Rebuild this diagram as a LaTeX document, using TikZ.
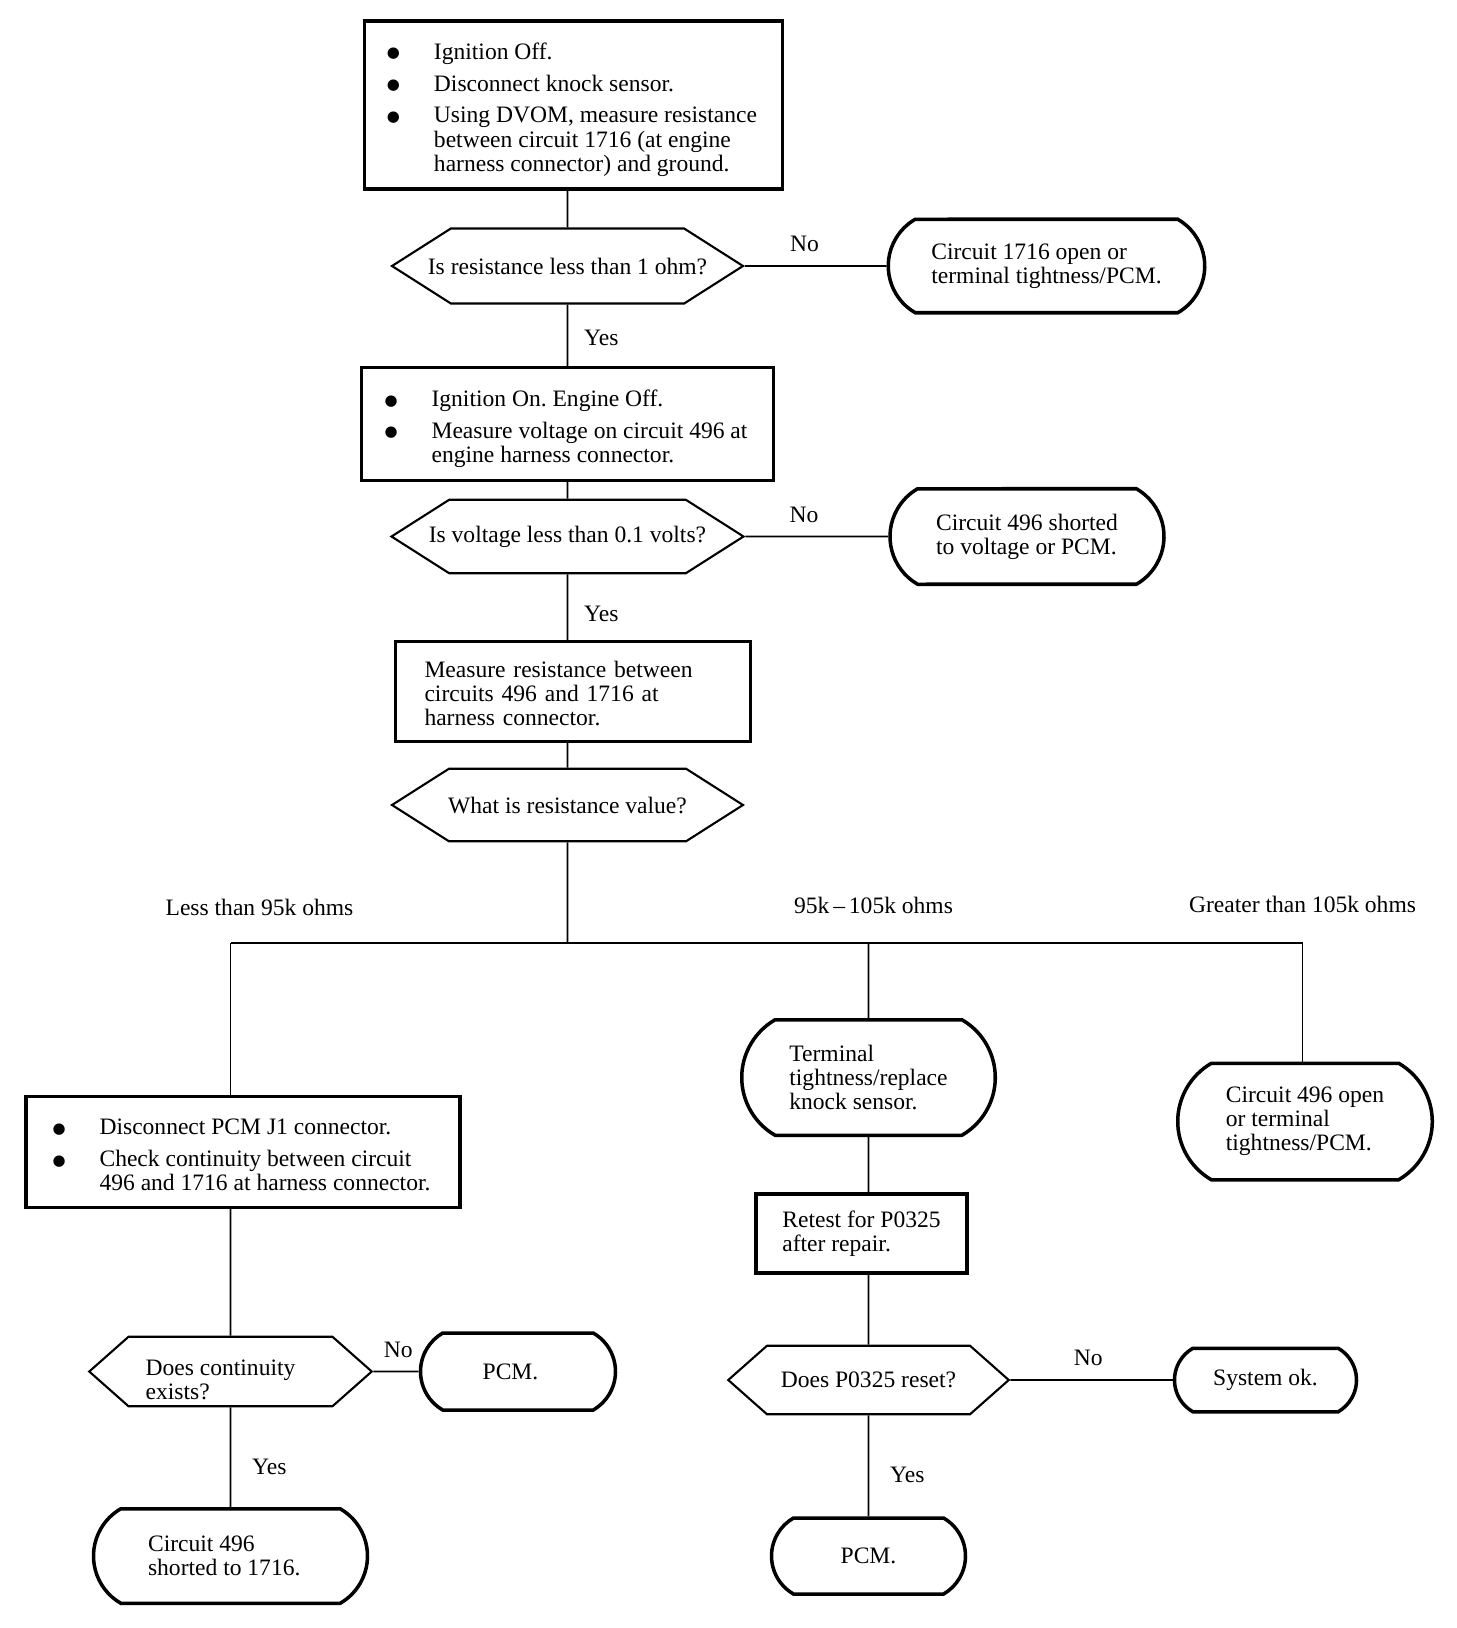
\documentclass[tikz,border=0pt]{standalone}
\usepackage{fontspec}
\setmainfont{Liberation Serif}
\newfontfamily\symfont{DejaVu Sans}
\usetikzlibrary{shapes.symbols,shapes.misc}

\frenchspacing
\newcommand{\bul}{\hspace*{-0.06cm}\raisebox{0.6pt}{\symfont\fontsize{8.5}{8.5}\selectfont ●}}
\newcommand{\gap}{\\[4.5pt]}
\newcommand{\low}[1]{\raisebox{-3pt}[\height][\depth]{#1}}
\newcommand{\qtext}[1]{\makebox[2cm][c]{#1}}

\begin{document}
\begin{tikzpicture}[line width=0.9pt,font=\fontsize{13.4}{13.7}\selectfont,
    stepbox/.style={draw,rectangle,line width=1.8pt,inner sep=0pt,align=left},
    ask/.style={draw,signal,signal to=west and east,signal pointer angle=65,line width=1.2pt,inner sep=0pt,align=left},
    endbox/.style={draw,rounded rectangle,rounded rectangle arc length=120,line width=2pt,inner sep=0pt,align=left}]

    \useasboundingbox (0,0) rectangle (29.12,-32.56);

    % main column
    \node[stepbox,minimum width=8.35cm,minimum height=3.36cm] (chk1) at (11.47,-2.10) {\low{\begin{tabular}{@{}p{0.88cm}@{}l@{}}
        \bul & Ignition Off.\gap
        \bul & Disconnect knock sensor.\gap
        \bul & Using DVOM, measure resistance\\
             & between circuit 1716 (at engine\\
             & harness connector) and ground.
    \end{tabular}}};
    \node[ask,minimum width=7.02cm,minimum height=1.50cm] (q1) at (11.35,-5.32) {\qtext{Is resistance less than 1 ohm?}};
    \node[endbox,minimum width=6.33cm,minimum height=1.87cm] (open1) at (20.93,-5.32) {Circuit 1716 open or\\terminal tightness/PCM.};

    \node[stepbox,minimum width=8.25cm,minimum height=2.26cm] (chk2) at (11.35,-8.48) {\low{\begin{tabular}{@{}p{0.88cm}@{}l@{}}
        \bul & Ignition On. Engine Off.\gap
        \bul & Measure voltage on circuit 496 at\\
             & engine harness connector.
    \end{tabular}}};
    \node[ask,minimum width=7.04cm,minimum height=1.47cm] (q2) at (11.35,-10.73) {\qtext{Is voltage less than 0.1 volts?}};
    \node[endbox,minimum width=5.48cm,minimum height=1.91cm] (short1) at (20.54,-10.73) {Circuit 496 shorted\\to voltage or PCM.};

    \node[stepbox,text width=5.94cm,inner xsep=0.58cm,minimum height=1.99cm] (meas) at (11.46,-13.83) {\low{\begin{tabular}{@{}l@{}}
        Measure resistance between\\circuits 496 and 1716 at\\harness connector.
    \end{tabular}}};
    \node[ask,minimum width=7.02cm,minimum height=1.45cm] (q3) at (11.35,-16.10) {\qtext{What is resistance value?}};

    % branches
    \coordinate (jl) at (4.61,-18.86);
    \coordinate (jm) at (17.37,-18.86);
    \coordinate (jr) at (26.05,-18.86);
    \node (lo) at (5.19,-18.15) {Less than 95k ohms};
    \node (mid) at (17.47,-18.11) {95k\,--\,105k ohms};
    \node (hi) at (26.05,-18.09) {Greater than 105k ohms};

    % left branch
    \node[stepbox,minimum width=8.68cm,minimum height=2.22cm] (chk3) at (4.86,-23.04) {\low{\begin{tabular}{@{}p{0.88cm}@{}l@{}}
        \bul & Disconnect PCM J1 connector.\gap
        \bul & Check continuity between circuit\\
             & 496 and 1716 at harness connector.
    \end{tabular}}};
    \node[ask,signal pointer angle=83,minimum width=5.65cm,minimum height=1.39cm] (q4) at (4.61,-27.43) {\qtext{\raisebox{-6.5pt}[\height][\depth]{\begin{tabular}{@{}l@{}}Does continuity\\exists?\end{tabular}}\hspace*{0.4cm}}};
    \node[endbox,minimum width=3.90cm,minimum height=1.54cm] (pcm1) at (10.36,-27.43) {PCM.\hspace*{0.3cm}};
    \node[endbox,minimum width=5.48cm,minimum height=1.89cm] (short2) at (4.61,-31.12) {Circuit 496\\shorted to 1716.\hspace*{0.25cm}};

    % middle branch
    \node[endbox,minimum width=5.07cm,minimum height=2.31cm] (fix1) at (17.37,-21.55) {Terminal\\tightness/replace\\knock sensor.};
    \node[stepbox,minimum width=4.22cm,minimum height=1.58cm] (retest) at (17.23,-24.67) {Retest for P0325\\after repair.};
    \node[ask,signal pointer angle=83,minimum width=5.61cm,minimum height=1.37cm] (q5) at (17.37,-27.60) {\qtext{Does P0325 reset?}};
    \node[endbox,minimum width=3.64cm,minimum height=1.27cm] (sysok) at (25.31,-27.60) {System ok.};
    \node[endbox,minimum width=3.88cm,minimum height=1.52cm] (pcm2) at (17.37,-31.12) {PCM.};

    % right branch
    \node[endbox,minimum width=5.09cm,minimum height=2.33cm] (open2) at (26.10,-22.43) {Circuit 496 open\\or terminal\\tightness/PCM.};

    \draw (chk1.south -| q1) -- (q1);
    \draw (q1) -- node[above=0.15cm,pos=0.42] (no1) {No} (open1);
    \draw (q1) -- node[right=0.2cm,pos=0.55] (yes1) {Yes} (chk2);
    \draw (chk2) -- (q2);
    \draw (q2) -- node[above=0.15cm,pos=0.41] (no2) {No} (short1);
    \draw (q2) -- node[right=0.2cm,pos=0.6] (yes2) {Yes} (q2 |- meas.north);
    \draw (q3 |- meas.south) -- (q3);
    \draw (q3) -- (q3 |- jl);
    \draw (jl) -- (jr);

    \draw (jl) -- (jl |- chk3.north);
    \draw (jl |- chk3.south) -- (q4);
    \draw (q4) -- node[above=0.15cm,pos=0.55] (no4) {No} (pcm1);
    \draw (q4) -- node[right=0.3cm,pos=0.6] (yes4) {Yes} (short2);

    \draw (jm) -- (fix1);
    \draw (fix1) -- (fix1 |- retest.north);
    \draw (fix1 |- retest.south) -- (q5);
    \draw (q5) -- node[above=0.15cm,pos=0.48] (no5) {No} (sysok);
    \draw (q5) -- node[right=0.3cm,pos=0.59] (yes5) {Yes} (pcm2);

    \draw (jr) -- (jr |- open2.north);

\end{tikzpicture}
\end{document}
